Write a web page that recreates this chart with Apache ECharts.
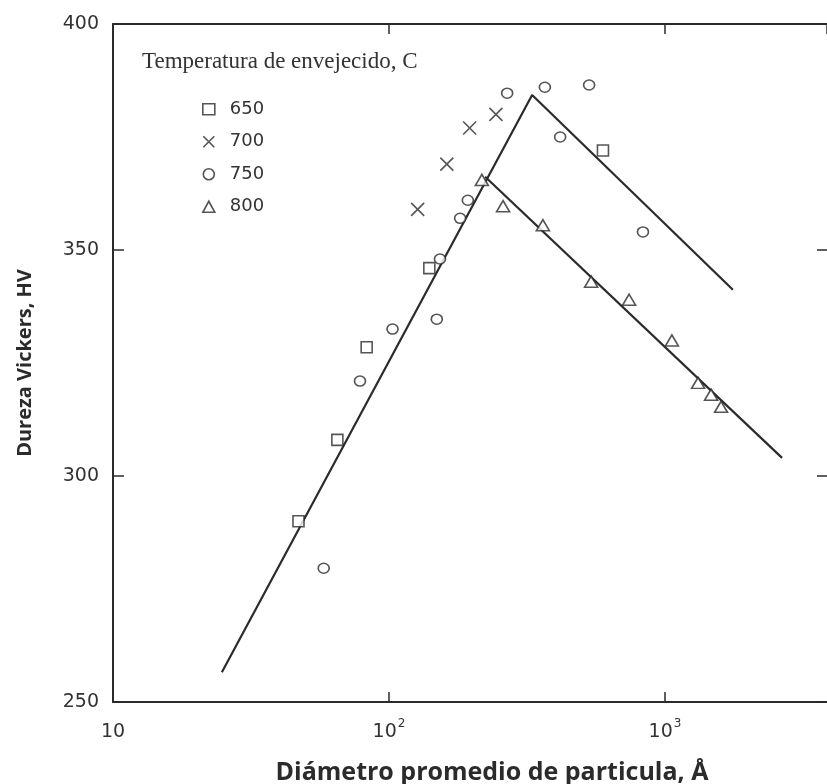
<!DOCTYPE html>
<html>
<head>
<meta charset="utf-8">
<script src="https://cdn.jsdelivr.net/npm/echarts@6/dist/echarts.min.js"></script>
<style>
  html, body { margin: 0; padding: 0; background: #fff; }
  #chart { width: 827px; height: 784px; }
</style>
</head>
<body>
<div id="chart"></div>
<script>
// Aging temperature groups (°C) shown in the legend
const temperatures = ['650', '700', '750', '800'];

// Particle diameter (Å) vs Vickers hardness (HV), one pair of arrays per temperature
const d650 = [47, 65, 83, 140, 596];
const hv650 = [290, 308, 328.5, 346, 372];

const d700 = [127, 162, 196, 244];
const hv700 = [359, 369, 377, 380];

const d750 = [58, 78.5, 103, 149, 153, 181, 193, 268, 367, 417, 531, 832];
const hv750 = [279.6, 321, 332.5, 334.7, 348, 357, 361, 384.7, 386, 375, 386.5, 354];

const d800 = [217, 259, 361, 540, 741, 1059, 1318, 1469, 1596];
const hv800 = [365.5, 359.7, 355.5, 343, 339, 330, 320.6, 318, 315.3];

// Fitted trend lines: rising branch to the peak, then two falling branches
const fitUpperD = [24.8, 330, 1762];
const fitUpperHV = [256.6, 384.3, 341.2];
const fitLowerD = [223, 2655];
const fitLowerHV = [366.2, 304];

// Axis ticks
const xTicks = [10, 100, 1000];
const yTicks = [250, 300, 350, 400];

const pairs = (xs, ys) => xs.map((x, i) => [x, ys[i]]);

const ink = '#2b2b2b';
const crossPath = 'path://M0,0L10,10M10,0L0,10';

const markerStyle = {
  color: '#ffffff',
  borderColor: ink,
  borderWidth: 1.6
};

const chart = echarts.init(document.getElementById('chart'), null, { renderer: 'canvas' });

// the plot runs a little past 10^3.5 on the right
const xMin = 10;
const xMax = Math.pow(10, 1 + (827 - 113) / 276);

function xLabel(v) {
  const e = Math.log10(v);
  const k = Math.round(e);
  if (Math.abs(e - k) > 1e-6 || xTicks.indexOf(Math.pow(10, k)) < 0) return '';
  if (k === 1) return '{b|10}';
  return '{b|10}{s|' + k + '}';
}

chart.setOption({
  animation: false,
  backgroundColor: '#ffffff',
  grid: { left: 113, right: 0, top: 24, bottom: 82, containLabel: false, outerBoundsMode: 'none' },
  title: {
    text: 'Temperatura de envejecido, C',
    left: 137,
    top: 45,
    textStyle: {
      fontFamily: 'Liberation Serif',
      fontWeight: 'normal',
      fontSize: 23,
      color: '#333'
    }
  },
  legend: {
    data: [
      { name: '650', icon: 'rect' },
      { name: '700', icon: crossPath },
      { name: '750', icon: 'circle' },
      { name: '800', icon: 'triangle' }
    ],
    orient: 'vertical',
    left: 197,
    top: 94,
    itemWidth: 12,
    itemHeight: 11,
    itemGap: 12,
    textStyle: {
      fontFamily: 'DejaVu Sans',
      fontSize: 18,
      color: '#333',
      lineHeight: 20.5,
      padding: [0, 0, 0, 10]
    },
    itemStyle: { color: '#fff', borderColor: ink, borderWidth: 1.6 },
    selectedMode: false
  },
  xAxis: [
    {
      type: 'log',
      logBase: 10,
      min: xMin,
      max: xMax,
      position: 'bottom',
      name: 'Diámetro promedio de particula, Å',
      nameLocation: 'middle',
      nameGap: 58,
      nameTextStyle: {
        fontFamily: 'Open Sans',
        fontWeight: 'bold',
        fontSize: 25,
        color: ink,
        padding: [0, 0, 0, 44]
      },
      axisLine: { show: true, lineStyle: { color: ink, width: 2 } },
      axisTick: { show: true, inside: true, length: 10, lineStyle: { color: ink, width: 1.5 } },
      minorTick: { show: false },
      splitLine: { show: false },
      axisLabel: {
        margin: 16,
        showMaxLabel: false,
        formatter: xLabel,
        rich: {
          b: { fontFamily: 'DejaVu Sans', fontSize: 19, color: '#333', verticalAlign: 'bottom', lineHeight: 24 },
          s: { fontFamily: 'DejaVu Sans', fontSize: 12, color: '#333', verticalAlign: 'top', lineHeight: 24, padding: [0, 0, 10, 1] }
        }
      }
    },
    {
      type: 'log',
      logBase: 10,
      min: xMin,
      max: xMax,
      position: 'top',
      axisLine: { show: true, lineStyle: { color: ink, width: 2 } },
      axisTick: { show: true, inside: true, length: 10, lineStyle: { color: ink, width: 1.5 } },
      axisLabel: { show: false },
      splitLine: { show: false }
    }
  ],
  yAxis: [
    {
      type: 'value',
      min: 250,
      max: 400,
      interval: 50,
      position: 'left',
      name: 'Dureza Vickers, HV',
      nameLocation: 'middle',
      nameGap: 78,
      nameRotate: 90,
      nameTextStyle: {
        fontFamily: 'Open Sans',
        fontWeight: 'bold',
        fontSize: 20,
        color: ink
      },
      axisLine: { show: true, lineStyle: { color: ink, width: 2 } },
      axisTick: { show: true, inside: true, length: 11, lineStyle: { color: ink, width: 1.5 } },
      splitLine: { show: false },
      axisLabel: {
        margin: 14,
        fontFamily: 'DejaVu Sans',
        fontSize: 19,
        color: '#333',
        formatter: v => (yTicks.indexOf(v) >= 0 ? String(v) : '')
      }
    },
    {
      type: 'value',
      min: 250,
      max: 400,
      interval: 50,
      position: 'right',
      axisLine: { show: false },
      axisTick: { show: true, inside: true, length: 10, lineStyle: { color: ink, width: 1.5 } },
      axisLabel: { show: false },
      splitLine: { show: false }
    }
  ],
  series: [
    {
      name: 'fit-upper',
      type: 'line',
      data: pairs(fitUpperD, fitUpperHV),
      showSymbol: false,
      symbol: 'none',
      lineStyle: { color: ink, width: 2.2 },
      z: 2,
      silent: true
    },
    {
      name: 'fit-lower',
      type: 'line',
      data: pairs(fitLowerD, fitLowerHV),
      showSymbol: false,
      symbol: 'none',
      lineStyle: { color: ink, width: 2.2 },
      z: 2,
      silent: true
    },
    {
      name: temperatures[0],
      type: 'scatter',
      symbol: 'rect',
      symbolSize: 11,
      data: pairs(d650, hv650),
      itemStyle: markerStyle,
      z: 5
    },
    {
      name: temperatures[1],
      type: 'scatter',
      symbol: crossPath,
      symbolSize: 13,
      data: pairs(d700, hv700),
      itemStyle: { color: 'none', borderColor: ink, borderWidth: 1.6 },
      z: 5
    },
    {
      name: temperatures[2],
      type: 'scatter',
      symbol: 'circle',
      symbolSize: [11, 10],
      data: pairs(d750, hv750),
      itemStyle: markerStyle,
      z: 5
    },
    {
      name: temperatures[3],
      type: 'scatter',
      symbol: 'triangle',
      symbolSize: [13, 11],
      data: pairs(d800, hv800),
      itemStyle: markerStyle,
      z: 5
    }
  ]
});
</script>
</body>
</html>
